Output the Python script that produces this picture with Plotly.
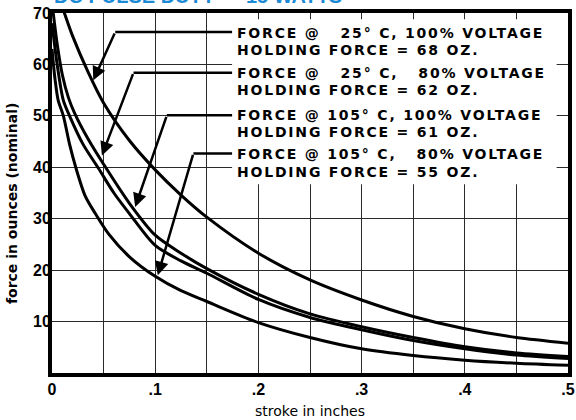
import plotly.graph_objects as go

# ---- data ----
stroke_a = [0.005, 0.012, 0.02, 0.035, 0.05, 0.075, 0.1, 0.125, 0.15, 0.2, 0.25, 0.3, 0.35, 0.4, 0.45, 0.5]
force_a = [74, 70, 65.5, 58.5, 52.5, 45.2, 39.5, 34.6, 30.3, 23.3, 18.1, 14.2, 11.0, 8.6, 6.9, 5.8]

stroke_b = [0.0, 0.005, 0.01, 0.016, 0.022, 0.035, 0.05, 0.075, 0.1, 0.125, 0.15, 0.2, 0.25, 0.3, 0.35, 0.4, 0.45, 0.5]
force_b = [72, 64, 58, 53.5, 50.5, 45.5, 40.6, 33.0, 26.8, 23.3, 20.3, 15.3, 11.5, 9.0, 6.9, 5.1, 3.9, 3.2]

stroke_c = [0.0, 0.005, 0.011, 0.017, 0.03, 0.045, 0.06, 0.075, 0.1, 0.125, 0.15, 0.2, 0.25, 0.3, 0.35, 0.4, 0.45, 0.5]
force_c = [68, 60, 53, 50, 44.5, 39.8, 35.0, 31.0, 24.8, 21.8, 19.4, 14.3, 10.8, 8.4, 6.3, 4.7, 3.5, 2.8]

stroke_d = [0.0, 0.003, 0.006, 0.011, 0.017, 0.023, 0.032, 0.042, 0.055, 0.075, 0.1, 0.125, 0.15, 0.2, 0.25, 0.3, 0.35, 0.4, 0.45, 0.5]
force_d = [63, 57, 53, 50, 44.5, 40, 34.5, 31, 27, 22.6, 18.8, 16.0, 13.9, 9.8, 6.9, 4.7, 3.4, 2.5, 1.9, 1.5]

label_line1 = ["FORCE @\u00a0\u00a0 25° C, 100% VOLTAGE",
               "FORCE @\u00a0\u00a0 25° C,\u00a0\u00a0 80% VOLTAGE",
               "FORCE @ 105° C, 100% VOLTAGE",
               "FORCE @ 105° C,\u00a0\u00a0 80% VOLTAGE"]
label_line2 = ["HOLDING FORCE = 68 OZ.", "HOLDING FORCE = 62 OZ.",
               "HOLDING FORCE = 61 OZ.", "HOLDING FORCE = 55 OZ."]
line1_y = [66.2, 58.4, 50.2, 42.5]
line2_y = [62.9, 55.1, 46.9, 39.1]
label_x = 0.1775

# leader lines: horizontal level, diagonal start x, arrow head (x, y)
leader_y = [66.3, 58.4, 50.1, 42.7]
leader_x0 = [0.0613, 0.079, 0.1113, 0.137]
head_x = [0.040, 0.0484, 0.0806, 0.1025]
head_y = [56.9, 42.3, 32.3, 19.0]
box_x = [0.1745, 0.489]
box_y = [36.7, 68.8]

x_ticks = [0, 0.1, 0.2, 0.3, 0.4, 0.5]
x_ticktext = ["0", ".1", ".2", ".3", ".4", ".5"]
y_ticks = [10, 20, 30, 40, 50, 60, 70]

title_text = "DC PULSE DUTY — 15 WATTS"

fig = go.Figure()
for xs, ys in [(stroke_a, force_a), (stroke_b, force_b), (stroke_c, force_c), (stroke_d, force_d)]:
    fig.add_trace(go.Scatter(x=xs, y=ys, mode="lines",
                             line=dict(color="black", width=3, shape="spline", smoothing=0.8),
                             showlegend=False, hoverinfo="skip"))

shapes = [dict(type="rect", xref="x", yref="y", x0=box_x[0], x1=box_x[1], y0=box_y[0], y1=box_y[1],
               fillcolor="white", line=dict(width=0), layer="between")]
annotations = []
label_font = dict(family="DejaVu Sans", size=14, color="black", weight="bold")
for i in range(4):
    shapes.append(dict(type="line", xref="x", yref="y", x0=leader_x0[i], x1=box_x[0],
                       y0=leader_y[i], y1=leader_y[i], line=dict(color="black", width=2.5), layer="above"))
    annotations.append(dict(x=head_x[i], y=head_y[i], ax=leader_x0[i], ay=leader_y[i],
                            xref="x", yref="y", axref="x", ayref="y", text="", showarrow=True,
                            arrowhead=2, arrowsize=1.1, arrowwidth=2.5, arrowcolor="black", standoff=0))
    annotations.append(dict(x=label_x, y=line1_y[i], xref="x", yref="y", text=label_line1[i],
                            showarrow=False, xanchor="left", yanchor="middle", font=label_font))
    annotations.append(dict(x=label_x, y=line2_y[i], xref="x", yref="y", text=label_line2[i],
                            showarrow=False, xanchor="left", yanchor="middle", font=label_font))

annotations.append(dict(x=0.0, y=1.011, xref="paper", yref="paper", text=title_text, showarrow=False,
                        xanchor="left", yanchor="bottom",
                        font=dict(family="Liberation Sans", size=20, color="#1a8ad4", weight="bold")))
annotations.append(dict(x=0.5, y=-0.078, xref="paper", yref="paper", text="stroke in inches",
                        showarrow=False, xanchor="center", yanchor="top",
                        font=dict(family="DejaVu Sans", size=14, color="black")))
annotations.append(dict(x=-0.077, y=0.47, xref="paper", yref="paper", text="force in ounces (nominal)",
                        showarrow=False, xanchor="center", yanchor="middle", textangle=-90,
                        font=dict(family="DejaVu Sans", size=14, color="black", weight="bold")))

fig.update_layout(
    width=576, height=420,
    margin=dict(l=52, r=8, t=13, b=47, autoexpand=False),
    paper_bgcolor="white", plot_bgcolor="white",
    shapes=shapes, annotations=annotations,
    xaxis=dict(range=[0, 0.5], tickvals=x_ticks, ticktext=x_ticktext, automargin=False,
               showgrid=True, gridcolor="#2a2a2a", gridwidth=1.3,
               minor=dict(dtick=0.05, tick0=0, showgrid=True, gridcolor="#2a2a2a", gridwidth=1.3),
               showline=True, linecolor="black", linewidth=4, mirror=True,
               ticks="", zeroline=False, ticklabelstandoff=-1,
               tickfont=dict(family="Liberation Sans", size=16, color="black", weight="bold")),
    yaxis=dict(range=[0, 70], tickvals=y_ticks, automargin=False,
               showgrid=True, gridcolor="#2a2a2a", gridwidth=1.3,
               showline=True, linecolor="black", linewidth=4, mirror=True,
               ticks="", zeroline=False, ticklabelstandoff=-6,
               tickfont=dict(family="Liberation Sans", size=16, color="black", weight="bold")),
)

post_js = """
document.body.style.margin = '0';
document.body.style.padding = '0';
document.querySelectorAll('text.annotation-text').forEach(function (t) {
  var s = t.textContent;
  if (s.indexOf('FORCE') === 0 || s.indexOf('HOLDING') === 0) {
    var b = t.getBBox();
    t.style.letterSpacing = '1.8px';
    t.setAttribute('text-anchor', 'start');
    t.setAttribute('x', b.x);
  }
});
"""

fig.write_html("out.html", post_script=post_js, config={"displayModeBar": False})
